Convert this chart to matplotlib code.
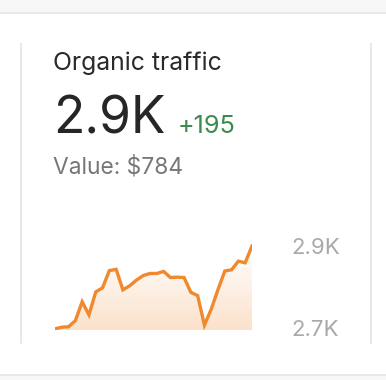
# organic traffic card
import numpy as np
import matplotlib
matplotlib.use("Agg")
import matplotlib.pyplot as plt
from matplotlib.lines import Line2D
from matplotlib.patches import Rectangle
from matplotlib.colors import to_rgb

plt.rcParams['font.family'] = ['Inter', 'DejaVu Sans']

traffic = [2698, 2702, 2703, 2718, 2764, 2732, 2788, 2798, 2840, 2843,
           2793, 2803, 2817, 2828, 2833, 2833, 2838, 2823, 2824, 2823,
           2787, 2779, 2707, 2746, 2794, 2839, 2842, 2863, 2859, 2900]
tick_vals = [2700, 2900]
tick_labels = ["2.7K", "2.9K"]

W, H = 386, 380
fig = plt.figure(figsize=(W / 100, H / 100), dpi=100)
fig.patch.set_facecolor("white")

def px(x, y):
    # pixel (from top-left) -> figure fraction
    return x / W, 1 - y / H

# card frame
fig.add_artist(Rectangle((0, 1 - 12 / H), 1, 12 / H, transform=fig.transFigure,
                         facecolor="#f7f7f7", edgecolor="none"))
fig.add_artist(Line2D([0, 1], [1 - 12.5 / H] * 2, transform=fig.transFigure,
                      color="#e4e4e4", lw=1.2))
fig.add_artist(Rectangle((0, 0), 1, 5 / H, transform=fig.transFigure,
                         facecolor="#f7f7f7", edgecolor="none"))
fig.add_artist(Line2D([0, 1], [5.5 / H] * 2, transform=fig.transFigure,
                      color="#e4e4e4", lw=1.2))
for xl in (21, 371):
    x0, y0 = px(xl, 44)
    x1, y1 = px(xl, 343)
    fig.add_artist(Line2D([x0, x1], [y0, y1], transform=fig.transFigure,
                          color="#e6e6e6", lw=1.3))

# texts
fig.text(*px(53, 70), "Organic traffic", fontsize=17.8, color="#2a2a2a", va="baseline")
fig.text(*px(53, 133), "2.9K", fontsize=37, color="#262626", va="baseline")
fig.text(*px(178, 133), "+195", fontsize=18.2, color="#3b8c4b", va="baseline")
fig.text(*px(53, 173), "Value: $784", fontsize=16.4, color="#777777", va="baseline")

# sparkline
ylo, yhi = 2695, 2905
scale = 82 / 200
bot = 328 + (2700 - ylo) * scale
top = 246 - (yhi - 2900) * scale
ax = fig.add_axes([55 / W, 1 - bot / H, (252 - 55) / W, (bot - top) / H])
x = np.arange(len(traffic))
ax.set_xlim(0, len(traffic) - 1)
ax.set_ylim(ylo, yhi)

orange = "#f0892e"
poly = ax.fill_between(x, traffic, ylo, color="none")
r, g, b = to_rgb(orange)
grad = np.zeros((100, 1, 4))
grad[..., 0], grad[..., 1], grad[..., 2] = r, g, b
grad[:, 0, 3] = np.linspace(0.25, 0.0, 100)
img = ax.imshow(grad, aspect="auto", extent=[0, len(traffic) - 1, max(traffic), ylo],
                origin="upper", zorder=1)
img.set_clip_path(poly.get_paths()[0], transform=ax.transData)
ax.plot(x, traffic, color=orange, lw=2.4, solid_joinstyle="miter", zorder=2)

for s in ax.spines.values():
    s.set_visible(False)
ax.set_xticks([])
ax.yaxis.tick_right()
ax.set_yticks(tick_vals)
ax.set_yticklabels(tick_labels)
ax.tick_params(axis="y", length=0, pad=28, labelsize=16, labelcolor="#a9a9a9")
ax.patch.set_alpha(0)

fig.savefig("out.png", dpi=100)
